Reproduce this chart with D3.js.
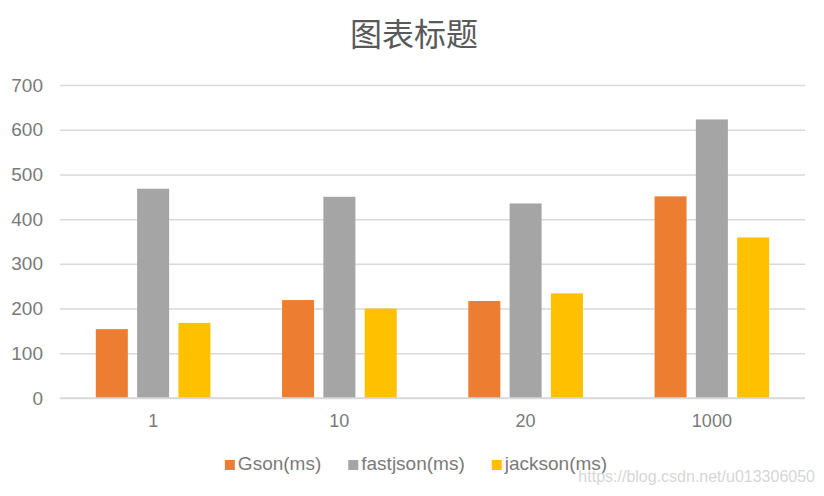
<!DOCTYPE html>
<html>
<head>
<meta charset="utf-8">
<script src="https://cdn.jsdelivr.net/npm/d3@7"></script>
<style>
  html, body { margin: 0; padding: 0; background: #fff; }
  svg { display: block; }
  text { font-family: "Liberation Sans", Arial, sans-serif; }
</style>
</head>
<body>
<svg id="chart" width="824" height="496"></svg>
<script>
var CATEGORIES = ['1', '10', '20', '1000'];
var SERIES = ['Gson(ms)', 'fastjson(ms)', 'jackson(ms)'];
var GSON = [154, 219, 217, 451];
var FASTJSON = [468, 450, 435, 623];
var JACKSON = [168, 200, 234, 359];
var Y_TICKS = [0, 100, 200, 300, 400, 500, 600, 700];
var TITLE = '图表标题';
var WATERMARK = 'https://blog.csdn.net/u013306050';

var WIDTH = 824, HEIGHT = 496;
var MARGIN = {top: 85, right: 19, bottom: 98, left: 60};
var COLORS = ['#ED7D31', '#A5A5A5', '#FFC000'];
var TEXTCOLOR = '#7a7a7a';

var svg = d3.select('#chart');
var values = [GSON, FASTJSON, JACKSON];

var x0 = d3.scaleBand()
  .domain(CATEGORIES)
  .range([MARGIN.left, WIDTH - MARGIN.right])
  .padding(0);

var x1 = d3.scaleBand()
  .domain(SERIES)
  .range([0, x0.bandwidth()])
  .paddingInner(0.225)
  .paddingOuter(0.867);

var y = d3.scaleLinear()
  .domain([0, 700])
  .range([HEIGHT - MARGIN.bottom, MARGIN.top]);

// gridlines + y labels
var yAxis = d3.axisLeft(y)
  .tickValues(Y_TICKS)
  .tickSize(-(WIDTH - MARGIN.left - MARGIN.right))
  .tickPadding(17);

var gy = svg.append('g')
  .attr('transform', 'translate(' + MARGIN.left + ',0)')
  .call(yAxis);
gy.select('.domain').remove();
gy.selectAll('line').attr('stroke', '#d9d9d9').attr('stroke-width', 1.5);
gy.selectAll('text')
  .attr('fill', TEXTCOLOR)
  .style('font-size', '19px');

// bars
var groups = svg.append('g').selectAll('g')
  .data(CATEGORIES)
  .join('g')
  .attr('transform', function(d) { return 'translate(' + x0(d) + ',0)'; });

groups.selectAll('rect')
  .data(function(d, i) {
    return SERIES.map(function(s, j) { return {series: s, value: values[j][i], color: COLORS[j]}; });
  })
  .join('rect')
  .attr('x', function(d) { return x1(d.series); })
  .attr('y', function(d) { return y(d.value); })
  .attr('width', x1.bandwidth())
  .attr('height', function(d) { return y(0) - y(d.value); })
  .attr('fill', function(d) { return d.color; });

// baseline drawn over bars
svg.append('line')
  .attr('x1', MARGIN.left).attr('x2', WIDTH - MARGIN.right)
  .attr('y1', y(0)).attr('y2', y(0))
  .attr('stroke', '#d9d9d9').attr('stroke-width', 1.5);

// x labels
var xAxis = d3.axisBottom(x0).tickSize(0).tickPadding(16);
var gx = svg.append('g')
  .attr('transform', 'translate(0,' + y(0) + ')')
  .call(xAxis);
gx.select('.domain').remove();
gx.selectAll('text')
  .attr('fill', TEXTCOLOR)
  .style('font-size', '18px');

// title
svg.append('text')
  .attr('x', 414)
  .attr('y', 46)
  .attr('text-anchor', 'middle')
  .attr('fill', '#595959')
  .style('font-family', '"Noto Sans CJK SC", sans-serif')
  .style('font-size', '32px')
  .text(TITLE);

// legend
var legend = svg.append('g');
var xCursor = 0;
var GAP = 27;
SERIES.forEach(function(s, i) {
  var item = legend.append('g').attr('transform', 'translate(' + xCursor + ',0)');
  item.append('rect')
    .attr('x', 0).attr('y', -10)
    .attr('width', 10).attr('height', 10)
    .attr('fill', COLORS[i]);
  var t = item.append('text')
    .attr('x', 13).attr('y', 0)
    .attr('fill', TEXTCOLOR)
    .style('font-size', '19px')
    .text(s);
  xCursor += 13 + t.node().getComputedTextLength() + GAP;
});
var legendWidth = xCursor - GAP;
legend.attr('transform', 'translate(' + (416 - legendWidth / 2) + ',470)');

// watermark
svg.append('text')
  .attr('x', 815)
  .attr('y', 482)
  .attr('text-anchor', 'end')
  .attr('fill', '#d6d6d6')
  .style('font-size', '16px')
  .text(WATERMARK);
</script>
</body>
</html>
